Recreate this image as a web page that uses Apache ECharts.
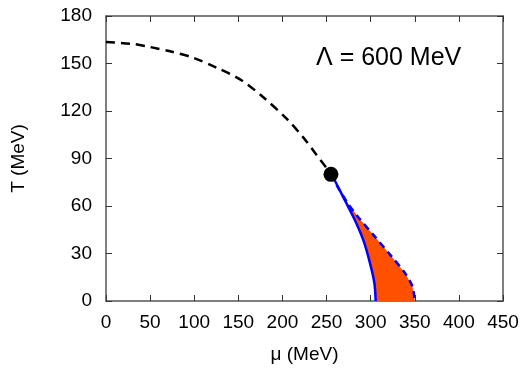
<!DOCTYPE html>
<html><head><meta charset="utf-8">
<script src="https://cdn.jsdelivr.net/npm/echarts@6/dist/echarts.min.js"></script>
<style>html,body{margin:0;padding:0;background:#fff}#c{width:522px;height:369px}</style>
</head><body><div id="c"></div>
<script>
// Crossover (dashed black)
const crossMu = [0, 31, 50, 72.6, 99, 125.5, 152, 178.3, 205, 224, 239, 250, 255];
const crossT  = [163.6, 162.3, 160.4, 157.7, 153.6, 147.3, 140, 128.7, 115, 103, 92, 84, 80];
// First-order transition line (solid blue)
const firstMu = [255, 259.6, 271, 282.3, 291.7, 299.3, 304.2, 305.7];
const firstT  = [80, 75.8, 63.3, 50.9, 38.4, 23.8, 11.4, 0];
// Spinodal (dashed blue)
const spinMu = [255, 262, 274.7, 286, 305, 323.9, 339, 347.3, 349.6, 349.8];
const spinT  = [80, 72.6, 61.2, 52.9, 40.5, 28, 17.6, 9.3, 2, 0];
// Critical end point
const cepMu = [255];
const cepT = [80];
const label = 'Λ = 600 MeV';

const pair = (a, b) => a.map((v, i) => [v, b[i]]);
const FONT = '"Liberation Sans", Arial, sans-serif';
const polyPts = pair(firstMu, firstT).concat(pair(spinMu, spinT).reverse());

const chart = echarts.init(document.getElementById('c'), null, {renderer: 'canvas'});
const axisLine = {show: true, onZero: false, lineStyle: {color: '#555', width: 1.5}};
const tick = {show: true, inside: true, length: 6, lineStyle: {color: '#333', width: 1}};
chart.setOption({
  animation: false,
  backgroundColor: '#fff',
  grid: {left: 106, right: 19, top: 16, bottom: 64},
  xAxis: [{
    type: 'value', min: 0, max: 450, interval: 50,
    name: 'μ (MeV)', nameLocation: 'middle', nameGap: 44,
    nameTextStyle: {fontFamily: FONT, fontSize: 19, color: '#000'},
    axisLine: axisLine, axisTick: tick, splitLine: {show: false},
    axisLabel: {fontFamily: FONT, fontSize: 19, color: '#000', margin: 12}
  }, {
    type: 'value', min: 0, max: 450, interval: 50, position: 'top',
    axisLine: axisLine, axisTick: tick, splitLine: {show: false}, axisLabel: {show: false}
  }],
  yAxis: [{
    type: 'value', min: 0, max: 180, interval: 30,
    name: 'T (MeV)', nameLocation: 'middle', nameGap: 78,
    nameTextStyle: {fontFamily: FONT, fontSize: 19, color: '#000'},
    axisLine: axisLine, axisTick: tick, splitLine: {show: false},
    axisLabel: {fontFamily: FONT, fontSize: 19, color: '#000', margin: 14}
  }, {
    type: 'value', min: 0, max: 180, interval: 30, position: 'right',
    axisLine: axisLine, axisTick: tick, splitLine: {show: false}, axisLabel: {show: false}
  }],
  series: [
    {
      type: 'custom', xAxisIndex: 0, yAxisIndex: 0, data: [[0, 0]], silent: true, z: 1,
      renderItem: function (params, api) {
        return {
          type: 'polygon',
          shape: {points: polyPts.map(p => api.coord(p))},
          style: {fill: '#ff5000', stroke: 'none'}
        };
      }
    },
    {
      type: 'line', data: pair(crossMu, crossT), smooth: 0.3, showSymbol: false, z: 3,
      lineStyle: {color: '#000', width: 2.5, type: [9, 6]}
    },
    {
      type: 'line', data: pair(spinMu, spinT), smooth: 0.3, showSymbol: false, z: 3,
      lineStyle: {color: '#0000ff', width: 2.5, type: [7, 5]}
    },
    {
      type: 'line', data: pair(firstMu, firstT), smooth: 0.3, showSymbol: false, z: 4,
      lineStyle: {color: '#0000ff', width: 2.5}
    },
    {
      type: 'scatter', data: pair(cepMu, cepT), symbolSize: 15, z: 5,
      itemStyle: {color: '#000', opacity: 1}
    }
  ],
  graphic: [{
    type: 'text', left: 316, top: 46,
    style: {text: label, font: '25px "Liberation Sans", Arial, sans-serif', fill: '#000'}
  }]
});
</script></body></html>
